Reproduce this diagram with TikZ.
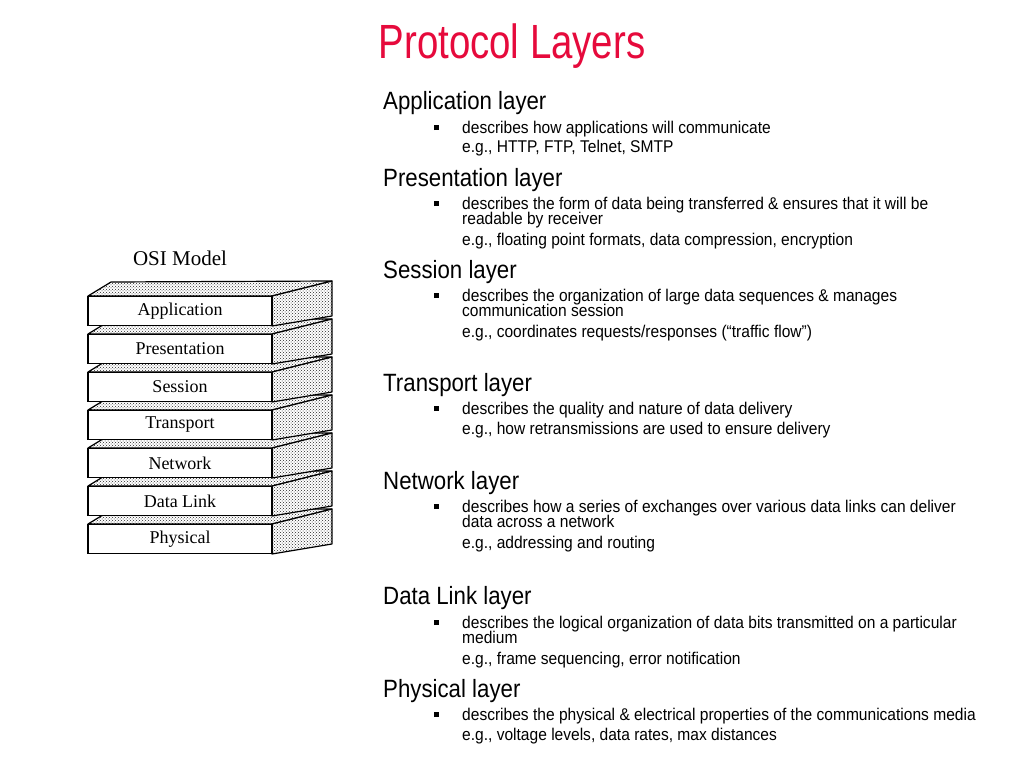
\documentclass[tikz,border=0pt]{standalone}
\usepackage{fontspec}
\newfontfamily\titlefont[FakeStretch=0.8]{Liberation Sans}
\newfontfamily\headfont[FakeStretch=0.89]{Liberation Sans}
\newfontfamily\bodyfont[FakeStretch=0.915]{Liberation Sans}
\newfontfamily\stackfont{Liberation Serif}
\usetikzlibrary{patterns, positioning}
\definecolor{titlered}{RGB}{230, 10, 60}

\tikzset{
  heading/.style={anchor=base west, inner sep=0pt, font=\headfont\fontsize{25}{26}\selectfont},
  bodytext/.style={anchor=base west, inner sep=0pt, font=\bodyfont\fontsize{17}{17}\selectfont},
  bulletmark/.style={anchor=base west, inner sep=0pt},
  dotface/.style={draw=black, line width=1.2pt, line join=round, preaction={fill=white}, pattern=crosshatch dots, pattern color=black!85},
  layerbox/.style={draw=black, line width=1.2pt, fill=white, minimum width=184pt, minimum height=29pt, inner sep=0pt, font=\stackfont\fontsize{18}{18}\selectfont}
}

\begin{document}
\begin{tikzpicture}[x=1pt, y=-1pt]
  \useasboundingbox[fill=white] (0,0) rectangle (1023,780);

  % Title
  \node[text=titlered, font=\titlefont\fontsize{48}{50}\selectfont, anchor=base, inner sep=0pt] (title) at (512,58) {Protocol Layers};

  % OSI stack, drawn bottom up
  \node[anchor=base, inner sep=0pt, font=\stackfont\fontsize{21}{21}\selectfont] (osi) at (180,265) {OSI Model};
  \foreach \i/\name in {6/Physical, 5/Data Link, 4/Network, 3/Transport, 2/Session, 1/Presentation, 0/Application} {
    \pgfmathsetmacro{\y}{296+38*\i}
    \draw[dotface] (88,\y) -- (111,{\y-14}) -- (332,{\y-15}) -- (272,\y) -- cycle;
    \draw[dotface] (272,\y) -- (332,{\y-15}) -- (332,{\y+20}) -- (272,{\y+30}) -- cycle;
    \node[layerbox] (layer\i) at (180,{\y+15}) {\name};
  }

  % Application
  \node[heading] (apph) at (383,109) {Application layer};
  \node[bulletmark] (appb) at (434,133) {\rule[3pt]{5pt}{5pt}};
  \node[bodytext] (appd) at (462,133) {describes how applications will communicate};
  \node[bodytext] (appe) at (462,152) {e.g., HTTP, FTP, Telnet, SMTP};

  % Presentation
  \node[heading] (preh) at (383,186) {Presentation layer};
  \node[bulletmark] (preb) at (434,209) {\rule[3pt]{5pt}{5pt}};
  \node[bodytext] (pred) at (462,209) {describes the form of data being transferred \& ensures that it will be};
  \node[bodytext] (pred2) at (462,224) {readable by receiver};
  \node[bodytext] (pree) at (462,245) {e.g., floating point formats, data compression, encryption};

  % Session
  \node[heading] (sesh) at (383,278) {Session layer};
  \node[bulletmark] (sesb) at (434,301) {\rule[3pt]{5pt}{5pt}};
  \node[bodytext] (sesd) at (462,301) {describes the organization of large data sequences \& manages};
  \node[bodytext] (sesd2) at (462,316) {communication session};
  \node[bodytext] (sese) at (462,337) {e.g., coordinates requests/responses (“traffic flow”)};

  % Transport
  \node[heading] (trah) at (383,391) {Transport layer};
  \node[bulletmark] (trab) at (434,414) {\rule[3pt]{5pt}{5pt}};
  \node[bodytext] (trad) at (462,414) {describes the quality and nature of data delivery};
  \node[bodytext] (trae) at (462,434) {e.g., how retransmissions are used to ensure delivery};

  % Network
  \node[heading] (neth) at (383,489) {Network layer};
  \node[bulletmark] (netb) at (434,512) {\rule[3pt]{5pt}{5pt}};
  \node[bodytext] (netd) at (462,512) {describes how a series of exchanges over various data links can deliver};
  \node[bodytext] (netd2) at (462,527) {data across a network};
  \node[bodytext] (nete) at (462,548) {e.g., addressing and routing};

  % Data Link
  \node[heading] (dlh) at (383,604) {Data Link layer};
  \node[bulletmark] (dlb) at (434,628) {\rule[3pt]{5pt}{5pt}};
  \node[bodytext] (dld) at (462,628) {describes the logical organization of data bits transmitted on a particular};
  \node[bodytext] (dld2) at (462,643) {medium};
  \node[bodytext] (dle) at (462,664) {e.g., frame sequencing, error notification};

  % Physical
  \node[heading] (phyh) at (383,697) {Physical layer};
  \node[bulletmark] (phyb) at (434,720) {\rule[3pt]{5pt}{5pt}};
  \node[bodytext] (phyd) at (462,720) {describes the physical \& electrical properties of the communications media};
  \node[bodytext] (phye) at (462,740) {e.g., voltage levels, data rates, max distances};
\end{tikzpicture}
\end{document}
